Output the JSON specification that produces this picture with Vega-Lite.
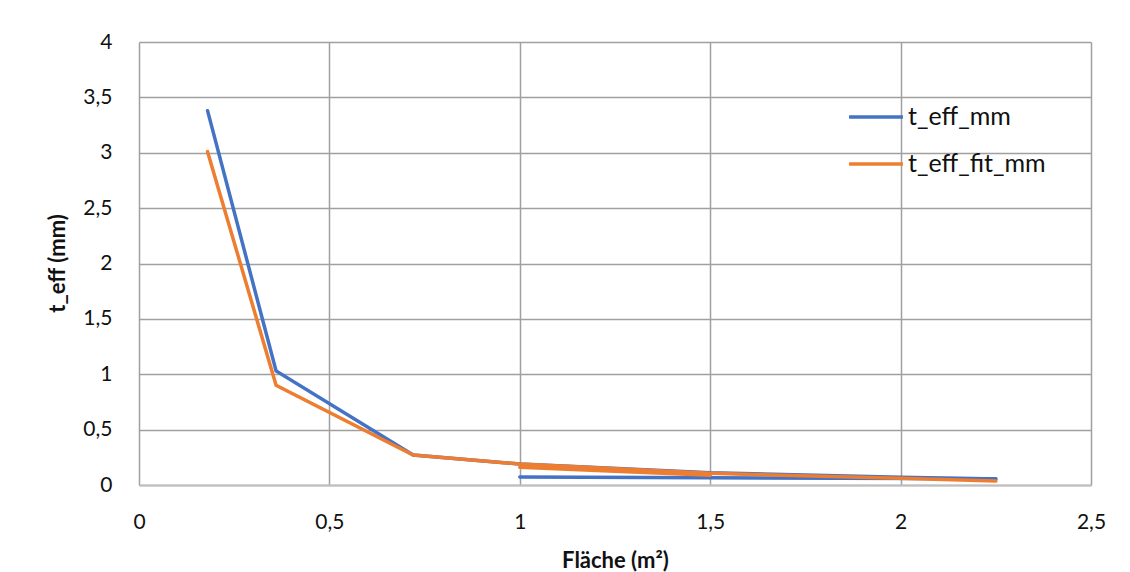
{
  "$schema": "https://vega.github.io/schema/vega-lite/v6.json",
  "width": 952,
  "height": 443,
  "autosize": {"type": "none"},
  "padding": {"left": 139, "top": 42, "right": 39, "bottom": 87},
  "background": "white",
  "config": {
    "view": {"stroke": null},
    "font": "Lato",
    "axis": {"labelFont": "Lato", "titleFont": "Lato", "labelColor": "#111", "titleColor": "#111"}
  },
  "data": {
    "values": [
      {"series": "t_eff_mm", "run": "b1", "i": 1, "area": 0.18, "t": 3.38},
      {"series": "t_eff_mm", "run": "b1", "i": 2, "area": 0.36, "t": 1.03},
      {"series": "t_eff_mm", "run": "b1", "i": 3, "area": 0.72, "t": 0.27},
      {"series": "t_eff_mm", "run": "b1", "i": 4, "area": 1.0, "t": 0.19},
      {"series": "t_eff_mm", "run": "b1", "i": 5, "area": 1.5, "t": 0.11},
      {"series": "t_eff_mm", "run": "b1", "i": 6, "area": 2.0, "t": 0.07},
      {"series": "t_eff_mm", "run": "b1", "i": 7, "area": 2.25, "t": 0.055},
      {"series": "t_eff_mm", "run": "b2", "i": 8, "area": 1.0, "t": 0.072},
      {"series": "t_eff_mm", "run": "b2", "i": 9, "area": 1.5, "t": 0.066},
      {"series": "t_eff_mm", "run": "b2", "i": 10, "area": 2.25, "t": 0.056},
      {"series": "t_eff_fit_mm", "run": "o1", "i": 11, "area": 0.18, "t": 3.01},
      {"series": "t_eff_fit_mm", "run": "o1", "i": 12, "area": 0.36, "t": 0.9},
      {"series": "t_eff_fit_mm", "run": "o1", "i": 13, "area": 0.72, "t": 0.27},
      {"series": "t_eff_fit_mm", "run": "o1", "i": 14, "area": 1.0, "t": 0.19},
      {"series": "t_eff_fit_mm", "run": "o1", "i": 15, "area": 1.5, "t": 0.105},
      {"series": "t_eff_fit_mm", "run": "o1", "i": 16, "area": 2.0, "t": 0.06},
      {"series": "t_eff_fit_mm", "run": "o1", "i": 17, "area": 2.25, "t": 0.035},
      {"series": "t_eff_fit_mm", "run": "o2", "i": 18, "area": 1.0, "t": 0.16},
      {"series": "t_eff_fit_mm", "run": "o2", "i": 19, "area": 1.5, "t": 0.088}
    ]
  },
  "mark": {"type": "line", "strokeWidth": 3.5, "strokeCap": "round", "strokeJoin": "miter"},
  "encoding": {
    "x": {
      "field": "area", "type": "quantitative",
      "scale": {"domain": [0, 2.5], "nice": false, "zero": false},
      "axis": {
        "values": [0, 0.5, 1, 1.5, 2, 2.5],
        "labelExpr": "replace(format(datum.value, '~g'), '.', ',')",
        "labelFlush": false, "labelOverlap": false,
        "title": "Fläche (m²)",
        "titleFontSize": 22, "titleFontWeight": "bold",
        "titleX": 476, "titleY": 75, "titleBaseline": "middle", "titleAlign": "center",
        "labelFontSize": 21, "labelPadding": 26, "labelBaseline": "top",
        "ticks": false,
        "domainColor": "#bfbfbf", "domainWidth": 2,
        "grid": true, "gridColor": "#a0a0a0", "gridWidth": 1.5
      }
    },
    "y": {
      "field": "t", "type": "quantitative",
      "scale": {"domain": [0, 4], "nice": false},
      "axis": {
        "values": [0, 0.5, 1, 1.5, 2, 2.5, 3, 3.5, 4],
        "labelExpr": "replace(format(datum.value, '~g'), '.', ',')",
        "labelFlush": false, "labelOverlap": false,
        "title": "t_eff (mm)",
        "titleFontSize": 22, "titleFontWeight": "bold",
        "titleX": -82, "titleY": 221, "titleAngle": -90, "titleBaseline": "middle", "titleAlign": "center",
        "labelFontSize": 21, "labelPadding": 27,
        "ticks": false, "domain": false,
        "grid": true, "gridColor": "#a0a0a0", "gridWidth": 1.5
      }
    },
    "color": {
      "field": "series", "type": "nominal",
      "scale": {"domain": ["t_eff_mm", "t_eff_fit_mm"], "range": ["#4472C4", "#ED7D31"]},
      "legend": {
        "title": null, "orient": "none", "legendX": 708, "legendY": 46,
        "symbolType": "stroke", "symbolSize": 2900, "symbolStrokeWidth": 3.5,
        "labelFontSize": 25, "labelFont": "Lato", "labelColor": "#111", "labelOffset": 3,
        "rowPadding": 5
      }
    },
    "detail": {"field": "run", "type": "nominal"},
    "order": {"field": "i", "type": "quantitative"}
  }
}
